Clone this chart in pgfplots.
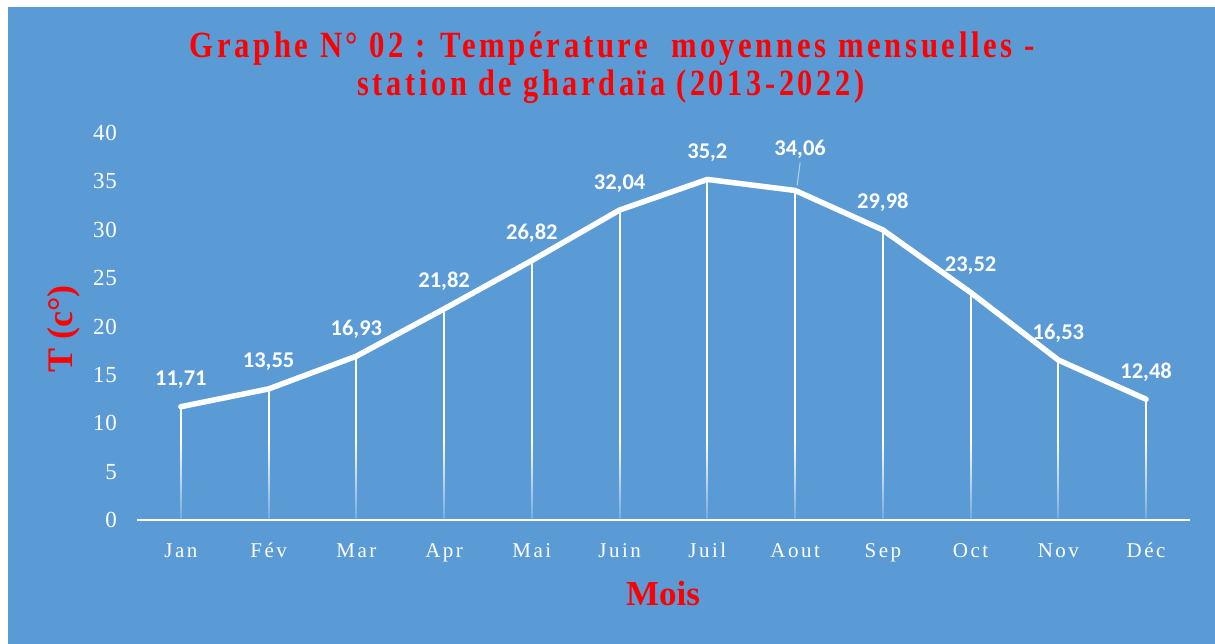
\documentclass[border=0pt]{standalone}
\usepackage{pgfplots}
\pgfplotsset{compat=1.18}
\usepackage{fontspec}
\setmainfont{Liberation Serif}
\newfontfamily\tickfont[LetterSpace=12]{Liberation Serif}
\newfontfamily\ytickfont[LetterSpace=3]{Liberation Serif}
\newfontfamily\titlefont[LetterSpace=12]{Liberation Serif}
\newfontfamily\labfont{Carlito}
\usetikzlibrary{fadings}
\definecolor{bg}{RGB}{91,155,213}
\definecolor{titlered}{RGB}{255,0,0}
\begin{document}
\begin{tikzpicture}[x=1pt,y=1pt]
\fill[white] (0,0) rectangle (1215,-644);
\fill[bg] (8,-7) rectangle (1215,-644);
\node[titlered] at (612,-49) {\resizebox{845pt}{\height}{\titlefont\fontsize{37}{38}\selectfont\bfseries Graphe N° 02 : Température\ \ moyennes mensuelles -}};
\node[titlered] at (611,-87) {\resizebox{507pt}{\height}{\titlefont\fontsize{37}{38}\selectfont\bfseries station de ghardaïa (2013-2022)}};
\node[titlered, rotate=90] at (64,-329) {\fontsize{36}{38}\selectfont\bfseries T (c°)};
\node[titlered] at (663,-594) {\fontsize{35}{37}\selectfont\bfseries Mois};
\begin{axis}[
  at={(137pt,-520pt)}, anchor=south west,
  scale only axis, width=1053pt, height=387pt,
  xmin=-0.5, xmax=11.5, ymin=0, ymax=40,
  axis line style={draw=none},
  major tick length=0pt,
  xtick={0,...,11},
  xticklabels={Jan,Fév,Mar,Apr,Mai,Juin,Juil,Aout,Sep,Oct,Nov,Déc},
  ytick={0,5,...,40},
  /pgf/number format/assume math mode=true,
  ticklabel style={text=white, inner sep=0pt},
  xticklabel style={anchor=base, yshift=-37pt, font=\tickfont\fontsize{21}{21}\selectfont},
  yticklabel style={anchor=east, xshift=-20pt, font=\ytickfont\fontsize{23}{23}\selectfont},
  clip=false,
]
\addplot[ycomb, white, line width=2pt, mark=none] coordinates {
(0,11.71) (1,13.55) (2,16.93) (3,21.82) (4,26.82) (5,32.04) (6,35.2) (7,34.06) (8,29.98) (9,23.52) (10,16.53) (11,12.48)};
\fill[bg, fill opacity=0.85, path fading=north] (axis cs:-0.5,0) rectangle (axis cs:11.5,8);
\addplot[white, line width=5.5pt, line join=round, line cap=round, mark=none] coordinates {
(0,11.71) (1,13.55) (2,16.93) (3,21.82) (4,26.82) (5,32.04) (6,35.2) (7,34.06) (8,29.98) (9,23.52) (10,16.53) (11,12.48)};
\draw[white, line width=2.5pt] (axis cs:-0.5,0) -- (axis cs:11.5,0);
\addplot[draw=none, mark=none, nodes near coords,
  every node near coord/.style={anchor=base, yshift=21pt, text=white, font=\labfont\bfseries\fontsize{22.5}{22.5}\selectfont},
  /pgf/number format/.cd, fixed, precision=2, use comma, assume math mode=true]
coordinates {
(0,11.71) (1,13.55) (2,16.93) (3,21.82) (4,26.82) (5,32.04) (6,35.2) (8,29.98) (9,23.52) (10,16.53) (11,12.48)};
\addplot[draw=none, mark=none, nodes near coords,
  every node near coord/.style={anchor=base, yshift=35pt, xshift=5pt, text=white, font=\labfont\bfseries\fontsize{22.5}{22.5}\selectfont},
  /pgf/number format/.cd, fixed, precision=2, use comma, assume math mode=true]
coordinates {(7,34.06)};
\draw[white!55!bg, line width=1pt] (axis cs:7,34.06) ++(2pt,5pt) -- ++(3pt,23pt);
\end{axis}
\end{tikzpicture}
\end{document}
